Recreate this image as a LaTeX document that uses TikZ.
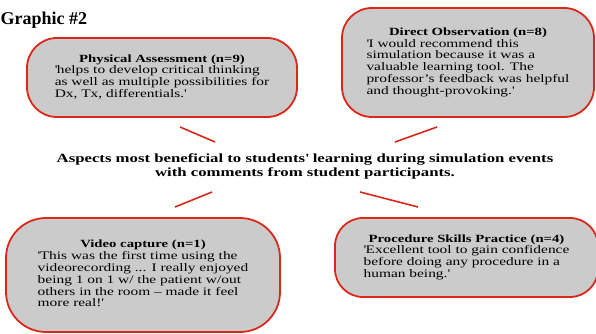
\documentclass[tikz,border=0pt]{standalone}
\usepackage{fontspec}
\setmainfont{Liberation Serif}[FakeStretch=1.34]
\newfontfamily\headserif{Liberation Serif}
\definecolor{bubblered}{RGB}{218,40,26}
\definecolor{bubblegray}{RGB}{203,203,203}
\newcommand{\sqt}{\textquotesingle}
\newcommand{\quotebox}[2]{%
  \begin{tabular}{@{}l@{}}
    \multicolumn{1}{@{}c@{}}{\fontsize{11}{11.8}\selectfont\bfseries #1}\\
    #2
  \end{tabular}}
\tikzset{
  bubble/.style={rectangle, draw=bubblered, fill=bubblegray, line width=1.8pt, inner sep=0pt, font=\fontsize{11.5}{11.8}\selectfont},
  spoke/.style={draw=bubblered, line width=1.6pt},
  caption/.style={align=center, font=\bfseries\fontsize{12.5}{14}\selectfont},
}

\begin{document}
\begin{tikzpicture}[x=1pt, y=-1pt]
  \useasboundingbox (0,0) rectangle (596,334);

  % Title
  \node[font=\headserif\bfseries\fontsize{18}{20}\selectfont, anchor=base west, inner sep=0pt] (graphic) at (0.5,25) {Graphic \#2};

  % Bubbles
  \node[bubble, minimum width=270, minimum height=79, rounded corners=30pt] (phys) at (162,77.5)
    {\quotebox{Physical Assessment (n=9)}{\sqt helps to develop critical thinking\\ as well as multiple possibilities for\\ Dx, Tx, differentials.\sqt}};
  \node[bubble, minimum width=252, minimum height=109, rounded corners=30pt] (direct) at (468,62.5)
    {\quotebox{Direct Observation (n=8)}{\sqt I would recommend this\\ simulation because it was a\\ valuable learning tool. The\\ professor’s feedback was helpful\\ and thought-provoking.\sqt}};
  \node[bubble, minimum width=274, minimum height=114, rounded corners=40pt] (video) at (143,275)
    {\quotebox{Video capture (n=1)}{\sqt This was the first time using the\\ videorecording ... I really enjoyed\\ being 1 on 1 w/ the patient w/out\\ others in the room -- made it feel\\ more real!\sqt}};
  \node[bubble, minimum width=263, minimum height=79, rounded corners=28pt] (skills) at (466.5,257.5)
    {\quotebox{Procedure Skills Practice (n=4)}{\sqt Excellent tool to gain confidence\\ before doing any procedure in a\\ human being.\sqt}};

  % Centre text
  \node[caption] (aspects) at (305,166)
    {Aspects most beneficial to students\sqt{} learning during simulation events\\ with comments from student participants.};

  % Spokes
  \coordinate (s1a) at (180,127); \coordinate (s1b) at (215,142);
  \coordinate (s2a) at (437,127); \coordinate (s2b) at (395,142);
  \coordinate (s3a) at (212,192); \coordinate (s3b) at (175,207);
  \coordinate (s4a) at (360,192); \coordinate (s4b) at (418,207);
  \draw[spoke] (s1a) -- (s1b);
  \draw[spoke] (s2a) -- (s2b);
  \draw[spoke] (s3a) -- (s3b);
  \draw[spoke] (s4a) -- (s4b);
\end{tikzpicture}
\end{document}
